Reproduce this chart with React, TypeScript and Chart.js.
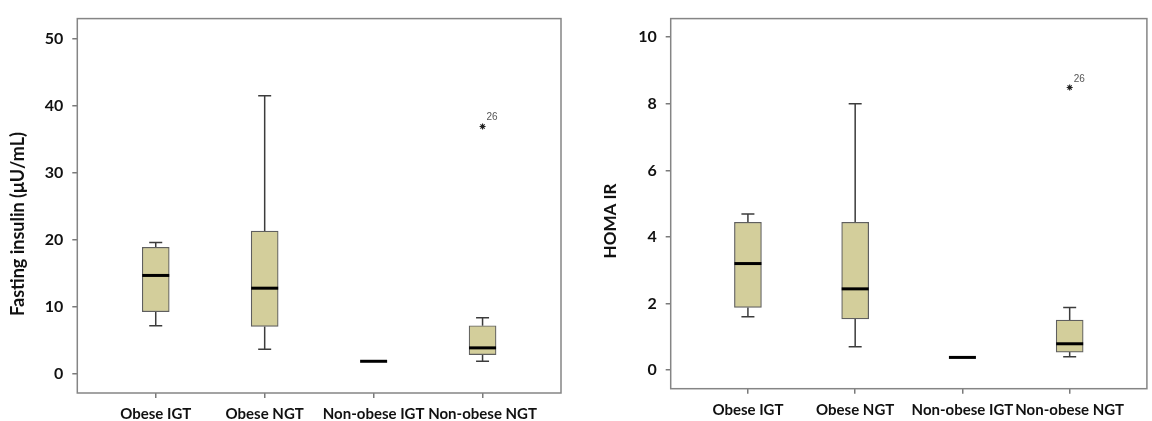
import React, { useEffect, useRef } from "react";
import { Chart, registerables } from "chart.js";

Chart.register(...registerables);

// ---------- data ----------
const categories = ["Obese IGT", "Obese NGT", "Non-obese IGT", "Non-obese NGT"];

const insulinMin = [7.2, 3.7, 1.9, 1.9];
const insulinQ1 = [9.3, 7.1, 1.9, 2.9];
const insulinMedian = [14.7, 12.8, 1.9, 3.9];
const insulinQ3 = [18.9, 21.3, 1.9, 7.2];
const insulinMax = [19.6, 41.5, 1.9, 8.4];
const insulinOutlierCat = [3];
const insulinOutlierValue = [36.9];
const insulinOutlierLabel = ["26"];
const insulinTicks = [0, 10, 20, 30, 40, 50];

const homaMin = [1.6, 0.7, 0.38, 0.4];
const homaQ1 = [1.88, 1.54, 0.38, 0.54];
const homaMedian = [3.2, 2.44, 0.38, 0.79];
const homaQ3 = [4.44, 4.44, 0.38, 1.5];
const homaMax = [4.69, 8.0, 0.38, 1.88];
const homaOutlierCat = [3];
const homaOutlierValue = [8.49];
const homaOutlierLabel = ["26"];
const homaTicks = [0, 2, 4, 6, 8, 10];

// ---------- style ----------
const FONT = 'Lato, "Liberation Sans", sans-serif';
const BOX_FILL = "rgb(211,206,155)";
const BOX_EDGE = "#5f5f5f";
const WHISKER = "#3c3c3c";
const FRAME = "#858585";
const TICK = "#7a7a7a";
const BOX_W = 27;
const CAP_W = 13;

type Props = {
  left: number;
  width: number;
  mins: number[];
  q1s: number[];
  meds: number[];
  q3s: number[];
  maxs: number[];
  outCat: number[];
  outVal: number[];
  outLabel: string[];
  yTicks: number[];
  yMin: number;
  yMax: number;
  yTitle: string;
  titleSize: number;
  titleX: number;
  titleY: number;
  padTop: number;
  padRight: number;
  yAxisWidth: number;
  xAxisHeight: number;
  xLabelPad: number;
  labelDx: number;
  labelDy: number;
};

function BoxChart(p: Props) {
  const ref = useRef<HTMLCanvasElement | null>(null);

  useEffect(() => {
    if (!ref.current) return;
    const boxPlugin = {
      id: "boxplot",
      beforeDatasetsDraw(chart: any) {
        const { ctx } = chart;
        const x = chart.scales.x;
        const y = chart.scales.y;
        ctx.save();
        ctx.strokeStyle = WHISKER;
        ctx.lineWidth = 1.5;
        categories.forEach((_, i) => {
          const cx = x.getPixelForValue(i);
          const segs: [number, number][] = [];
          if (p.maxs[i] > p.q3s[i]) segs.push([p.q3s[i], p.maxs[i]]);
          if (p.mins[i] < p.q1s[i]) segs.push([p.q1s[i], p.mins[i]]);
          segs.forEach(([from, to]) => {
            const y0 = y.getPixelForValue(from);
            const y1 = y.getPixelForValue(to);
            ctx.beginPath();
            ctx.moveTo(cx, y0);
            ctx.lineTo(cx, y1);
            ctx.moveTo(cx - CAP_W / 2, y1);
            ctx.lineTo(cx + CAP_W / 2, y1);
            ctx.stroke();
          });
        });
        ctx.restore();
      },
      afterDatasetsDraw(chart: any) {
        const { ctx, chartArea } = chart;
        const x = chart.scales.x;
        const y = chart.scales.y;
        ctx.save();
        ctx.strokeStyle = "#000";
        ctx.lineWidth = 3;
        categories.forEach((_, i) => {
          const cx = x.getPixelForValue(i);
          const my = y.getPixelForValue(p.meds[i]);
          ctx.beginPath();
          ctx.moveTo(cx - BOX_W / 2, my);
          ctx.lineTo(cx + BOX_W / 2, my);
          ctx.stroke();
        });
        ctx.fillStyle = "#555";
        ctx.font = '10px "Liberation Sans", Arial, sans-serif';
        ctx.textAlign = "left";
        ctx.textBaseline = "middle";
        p.outCat.forEach((c, i) => {
          const px = x.getPixelForValue(c);
          const py = y.getPixelForValue(p.outVal[i]);
          ctx.fillText(p.outLabel[i], px + p.labelDx, py + p.labelDy);
        });
        ctx.strokeStyle = FRAME;
        ctx.lineWidth = 1.5;
        ctx.strokeRect(
          chartArea.left,
          chartArea.top,
          chartArea.right - chartArea.left,
          chartArea.bottom - chartArea.top
        );
        ctx.restore();
      },
      afterDraw(chart: any) {
        const { ctx } = chart;
        ctx.save();
        ctx.translate(p.titleX, p.titleY);
        ctx.rotate(-Math.PI / 2);
        ctx.fillStyle = "#111";
        ctx.font = `bold ${p.titleSize}px ${FONT}`;
        ctx.textAlign = "center";
        ctx.textBaseline = "middle";
        ctx.fillText(p.yTitle, 0, 0);
        ctx.restore();
      },
    };

    const chart = new Chart(ref.current, {
      type: "bar",
      data: {
        datasets: [
          {
            type: "bar",
            data: categories.map((_, i) => ({ x: i, y: [p.q1s[i], p.q3s[i]] })) as any,
            backgroundColor: BOX_FILL,
            borderColor: BOX_EDGE,
            borderWidth: 1.2,
            borderSkipped: false,
            barThickness: BOX_W,
          } as any,
          {
            type: "scatter",
            data: p.outCat.map((c, i) => ({ x: c, y: p.outVal[i] })),
            pointStyle: "star",
            pointRadius: 3,
            borderColor: "#222",
            backgroundColor: "#222",
            borderWidth: 1.1,
          } as any,
        ],
      },
      options: {
        animation: false,
        responsive: false,
        devicePixelRatio: 1,
        layout: { padding: { top: p.padTop, right: p.padRight, left: 0, bottom: 0 } },
        plugins: { legend: { display: false }, tooltip: { enabled: false } },
        scales: {
          x: {
            type: "linear",
            offset: false,
            min: -0.72,
            max: 3.72,
            afterBuildTicks: (s: any) => {
              s.ticks = categories.map((_, i) => ({ value: i }));
            },
            afterFit: (s: any) => {
              s.height = p.xAxisHeight;
            },
            grid: { offset: false, drawOnChartArea: false, drawTicks: true, tickLength: 5, color: TICK, lineWidth: 1.5 },
            border: { display: false },
            ticks: {
              autoSkip: false,
              maxRotation: 0,
              minRotation: 0,
              padding: p.xLabelPad,
              color: "#111",
              font: { family: FONT, size: 15, weight: "bold" },
              callback: (v: any) => categories[v as number] ?? "",
            },
          } as any,
          y: {
            type: "linear",
            min: p.yMin,
            max: p.yMax,
            afterBuildTicks: (s: any) => {
              s.ticks = p.yTicks.map((v) => ({ value: v }));
            },
            afterFit: (s: any) => {
              s.width = p.yAxisWidth;
            },
            grid: { drawOnChartArea: false, drawTicks: true, tickLength: 5, color: TICK, lineWidth: 1.5 },
            border: { display: false },
            ticks: {
              padding: 9,
              color: "#111",
              font: { family: FONT, size: 16, weight: "bold" },
            },
          } as any,
        },
      },
      plugins: [boxPlugin],
    });
    return () => chart.destroy();
  }, []);

  return (
    <div style={{ position: "absolute", left: p.left, top: 0, width: p.width, height: 421 }}>
      <canvas ref={ref} width={p.width} height={421} style={{ width: p.width, height: 421, display: "block" }} />
    </div>
  );
}

export default function App() {
  return (
    <div style={{ position: "absolute", left: 0, top: 0, width: 1152, height: 421, background: "#fff" }}>
      <BoxChart
        left={0}
        width={576}
        mins={insulinMin}
        q1s={insulinQ1}
        meds={insulinMedian}
        q3s={insulinQ3}
        maxs={insulinMax}
        outCat={insulinOutlierCat}
        outVal={insulinOutlierValue}
        outLabel={insulinOutlierLabel}
        yTicks={insulinTicks}
        yMin={-2.83}
        yMax={53.0}
        yTitle="Fasting insulin (μU/mL)"
        titleSize={18}
        titleX={18}
        titleY={224}
        padTop={12.3}
        padRight={15}
        yAxisWidth={77.3}
        xAxisHeight={28}
        xLabelPad={7}
        labelDx={4}
        labelDy={-9}
      />
      <BoxChart
        left={576}
        width={576}
        mins={homaMin}
        q1s={homaQ1}
        meds={homaMedian}
        q3s={homaQ3}
        maxs={homaMax}
        outCat={homaOutlierCat}
        outVal={homaOutlierValue}
        outLabel={homaOutlierLabel}
        yTicks={homaTicks}
        yMin={-0.56}
        yMax={10.56}
        yTitle="HOMA IR"
        titleSize={17}
        titleX={35}
        titleY={221}
        padTop={10.7}
        padRight={2}
        yAxisWidth={94.7}
        xAxisHeight={32.3}
        xLabelPad={7}
        labelDx={4}
        labelDy={-8.5}
      />
    </div>
  );
}
